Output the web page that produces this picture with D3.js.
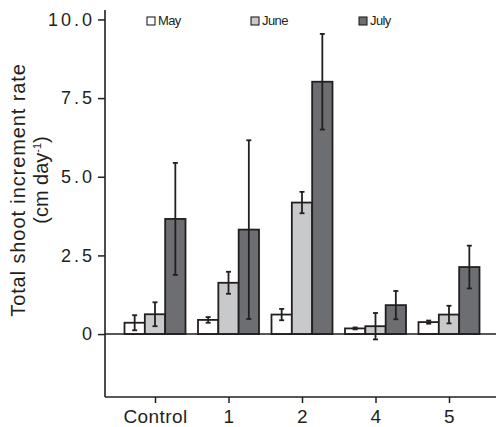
<!DOCTYPE html>
<html>
<head>
<meta charset="utf-8">
<script src="https://cdn.jsdelivr.net/npm/d3@7"></script>
<style>
  html, body { margin: 0; padding: 0; background: #fff; }
  svg { display: block; }
  text { font-family: "Liberation Sans", Arial, Helvetica, sans-serif; fill: #231f20; }
</style>
</head>
<body>
<svg id="chart" width="496" height="427"></svg>
<script>
const categories = ["Control", "1", "2", "4", "5"];
const seriesNames = ["May", "June", "July"];
const mayValues  = [0.36, 0.45, 0.62, 0.18, 0.38];
const mayErrors  = [0.24, 0.09, 0.18, 0.03, 0.05];
const juneValues = [0.63, 1.63, 4.18, 0.25, 0.62];
const juneErrors = [0.38, 0.35, 0.34, 0.42, 0.28];
const julyValues = [3.66, 3.32, 8.02, 0.92, 2.13];
const julyErrors = [1.78, 2.84, 1.52, 0.45, 0.68];
const yTicks = [0, 2.5, 5.0, 7.5, 10.0];
const yTickLabels = ["0", "2.5", "5.0", "7.5", "10.0"];

const seriesColors = ["#ffffff", "#c8c9cb", "#6d6e71"];
const ink = "#231f20";

const series = [
  { name: seriesNames[0], values: mayValues, errors: mayErrors, color: seriesColors[0] },
  { name: seriesNames[1], values: juneValues, errors: juneErrors, color: seriesColors[1] },
  { name: seriesNames[2], values: julyValues, errors: julyErrors, color: seriesColors[2] }
];

const svg = d3.select("#chart");
const axisX = 105, axisBottom = 397, axisTop = 10, rightEdge = 496;

const y = d3.scaleLinear().domain([-2, 10.3]).range([axisBottom, axisTop]);
const x = d3.scalePoint().domain(categories).range([155, 449]);
const xs = d3.scaleBand().domain(seriesNames).range([-30.5, 30.5]).padding(0);

// bars
const groups = svg.append("g");
series.forEach((s, si) => {
  const g = groups.append("g");
  categories.forEach((c, ci) => {
    const v = s.values[ci];
    const bx = x(c) + xs(s.name);
    g.append("rect")
      .attr("x", bx)
      .attr("y", y(Math.max(0, v)))
      .attr("width", xs.bandwidth())
      .attr("height", Math.abs(y(v) - y(0)))
      .attr("fill", s.color)
      .attr("stroke", ink)
      .attr("stroke-width", 1.8);
  });
});

// zero line
svg.append("line")
  .attr("x1", axisX).attr("x2", rightEdge)
  .attr("y1", y(0)).attr("y2", y(0))
  .attr("stroke", ink).attr("stroke-width", 1.5);

// error bars
series.forEach((s) => {
  categories.forEach((c, ci) => {
    const cx = x(c) + xs(s.name) + xs.bandwidth() / 2;
    const v = s.values[ci], e = s.errors[ci];
    const top = y(v + e), bot = y(v - e);
    const cap = 2.5;
    const g = svg.append("g").attr("stroke", ink).attr("stroke-width", 1.8);
    g.append("line").attr("x1", cx).attr("x2", cx).attr("y1", top).attr("y2", bot);
    g.append("line").attr("x1", cx - cap).attr("x2", cx + cap).attr("y1", top).attr("y2", top);
    g.append("line").attr("x1", cx - cap).attr("x2", cx + cap).attr("y1", bot).attr("y2", bot);
  });
});

// y axis
const yAxis = d3.axisLeft(y).tickValues(yTicks)
  .tickFormat((d, i) => yTickLabels[i]).tickSize(7).tickPadding(3);
const yg = svg.append("g").attr("transform", `translate(${axisX},0)`).call(yAxis);
yg.select(".domain").remove();
yg.selectAll(".tick line").attr("stroke", ink).attr("stroke-width", 1.5);
yg.selectAll(".tick text")
  .style("font-family", '"Liberation Sans", Arial, sans-serif')
  .style("font-size", "18px").style("letter-spacing", "3px")
  .attr("fill", ink);
svg.append("line")
  .attr("x1", axisX).attr("x2", axisX).attr("y1", axisTop).attr("y2", axisBottom)
  .attr("stroke", ink).attr("stroke-width", 1.6);

// x axis
const xAxis = d3.axisBottom(x).tickSize(6).tickPadding(7);
const xg = svg.append("g").attr("transform", `translate(0,${axisBottom})`).call(xAxis);
xg.select(".domain").remove();
xg.selectAll(".tick line").attr("stroke", ink).attr("stroke-width", 1.5);
xg.selectAll(".tick text")
  .style("font-family", '"Liberation Sans", Arial, sans-serif')
  .style("font-size", "19px").style("letter-spacing", "0.4px")
  .attr("fill", ink);
svg.append("line")
  .attr("x1", axisX).attr("x2", rightEdge).attr("y1", axisBottom).attr("y2", axisBottom)
  .attr("stroke", ink).attr("stroke-width", 1.6);

// y title
const yt = svg.append("text")
  .attr("transform", "translate(25,190) rotate(-90)")
  .attr("text-anchor", "middle")
  .style("font-size", "20px").style("letter-spacing", "0.9px")
  .text("Total shoot increment rate");
const yt2 = svg.append("text")
  .attr("transform", "translate(48,180) rotate(-90)")
  .attr("text-anchor", "middle")
  .style("font-size", "20px");
yt2.append("tspan").text("(cm day");
yt2.append("tspan").attr("dy", -7).style("font-size", "11px").text("-1");
yt2.append("tspan").attr("dy", 7).text(")");

// legend
const legendX = [147, 251, 359];
series.forEach((s, i) => {
  svg.append("rect")
    .attr("x", legendX[i]).attr("y", 17).attr("width", 8).attr("height", 8)
    .attr("fill", s.color).attr("stroke", ink).attr("stroke-width", 1.1);
  svg.append("text")
    .attr("x", legendX[i] + 11).attr("y", 25)
    .style("font-size", "13px").style("letter-spacing", "-0.6px")
    .text(s.name);
});
</script>
</body>
</html>
